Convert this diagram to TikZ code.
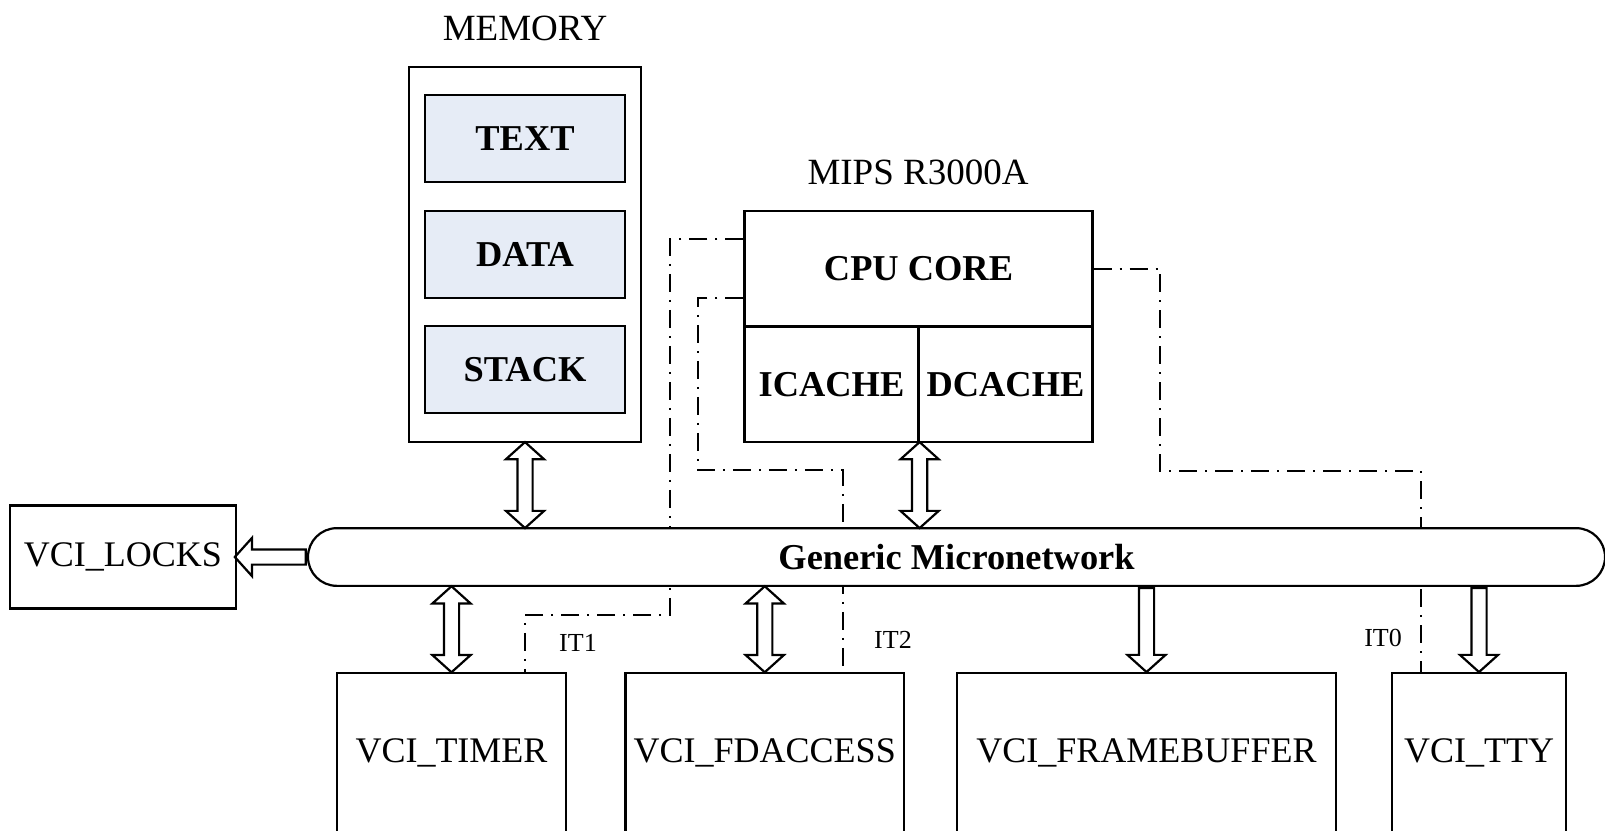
\documentclass[tikz,border=0pt]{standalone}
\usepackage{fontspec}
\setmainfont{Liberation Serif}
\usetikzlibrary{shapes.misc,shapes.arrows,calc}
\definecolor{segcol}{RGB}{230,236,246}
\tikzset{every picture/.style={x=0.5pt,y=-0.5pt}}
\tikzset{blk/.style={draw,line width=1.1pt,inner sep=0pt,font=\fontsize{18}{20}\selectfont}}
\tikzset{bld/.style={font=\fontsize{18.2}{20}\selectfont\bfseries}}
\tikzset{seg/.style={blk,bld,fill=segcol,minimum width=100pt,minimum height=43.2pt}}
\tikzset{hdr/.style={font=\fontsize{18.5}{20}\selectfont}}
\tikzset{itlbl/.style={font=\fontsize{13}{15}\selectfont}}
\tikzset{irq/.style={line width=1pt,dash pattern=on 9pt off 4pt on 1pt off 4pt}}
\tikzset{dblarrow/.style={double arrow,draw,line width=1.1pt,inner xsep=0pt,inner ysep=3.25pt,minimum width=18pt,double arrow head extend=5.75pt,double arrow tip angle=96,rotate=90}}
\tikzset{onearrow/.style={single arrow,draw,line width=1.1pt,inner xsep=0pt,inner ysep=3.25pt,minimum width=18pt,single arrow head extend=5.75pt,single arrow tip angle=96,anchor=tail}}

\begin{document}
\begin{tikzpicture}
\useasboundingbox (0,0) rectangle (1605,830);
\clip (0,0) rectangle (1605,830);

\node [blk,minimum width=116pt,minimum height=187.5pt] (mem) at (525,254.5) {};
\node [hdr] (memlbl) at (525,28) {MEMORY};
\node [seg] (txt) at (525,138.5) {TEXT};
\node [seg] (data) at (525,254.5) {DATA};
\node [seg] (stack) at (525,369.5) {STACK};

\node [hdr] (cpulbl) at (918,172) {MIPS R3000A};
\node [blk,bld,minimum width=174pt,minimum height=57.75pt] (core) at (918.5,268.75) {CPU CORE};
\node [blk,bld,minimum width=87pt,minimum height=57.75pt] (icache) at (831.5,384.25) {ICACHE};
\node [blk,bld,minimum width=87pt,minimum height=57.75pt] (dcache) at (1005.5,384.25) {DCACHE};

\node [blk,minimum width=113pt,minimum height=51.5pt] (locks) at (123,557) {VCI\_LOCKS};

\node [blk,minimum width=114.5pt,minimum height=80.15pt] (timer) at (451.5,752.85) {VCI\_TIMER};
\node [blk,minimum width=139.25pt,minimum height=80.15pt] (fdaccess) at (764.75,752.85) {VCI\_FDACCESS};
\node [blk,minimum width=189.5pt,minimum height=80.15pt] (fb) at (1146.5,752.85) {VCI\_FRAMEBUFFER};
\node [blk,minimum width=87pt,minimum height=80.15pt] (tty) at (1479,752.85) {VCI\_TTY};

\draw [irq] ($(core.north west)!.25!(core.south west)$) -| (670,615) -| ([xshift=36.75pt]timer.north);
\draw [irq] ($(core.north west)!.75!(core.south west)$) -| (698,470) -| ([xshift=39.1pt]fdaccess.north);
\draw [irq] (core.east) -| (1160,471) -| ([xshift=-29pt]tty.north);

\node [itlbl] (it1) at (578,643) {IT1};
\node [itlbl] (it2) at (893,640) {IT2};
\node [itlbl] (it0) at (1383,638) {IT0};

\node [blk,bld,rounded rectangle,fill=white,minimum width=648.5pt,minimum height=28.85pt] (bus) at (956.5,557) {Generic Micronetwork};

\node [dblarrow,minimum height=43pt] (memarr) at ($(mem.south)!.5!(mem.south |- bus.north)$) {};
\node [dblarrow,minimum height=43pt] (cpuarr) at ($(icache.south east)!.5!(icache.south east |- bus.north)$) {};
\node [dblarrow,minimum height=43pt] (timerarr) at ($(timer.north)!.5!(timer.north |- bus.south)$) {};
\node [dblarrow,minimum height=43pt] (fdarr) at ($(fdaccess.north)!.5!(fdaccess.north |- bus.south)$) {};
\node [onearrow,rotate=-90,minimum height=42pt] (fbarr) at (fb.north |- bus.south) {};
\node [onearrow,rotate=-90,minimum height=42pt] (ttyarr) at (tty.north |- bus.south) {};
\node [onearrow,rotate=180,minimum height=35.5pt] (locksarr) at (bus.west) {};
\end{tikzpicture}
\end{document}
